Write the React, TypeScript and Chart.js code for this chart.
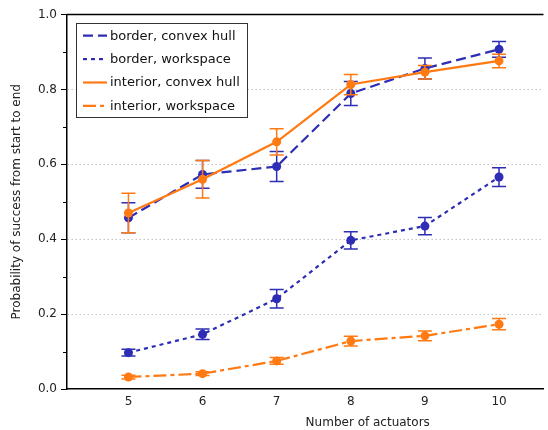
import React, { useEffect, useRef } from "react";
import { Chart, registerables } from "chart.js";

Chart.register(...registerables);

const actuators = [5, 6, 7, 8, 9, 10];
const borderHull = [0.457, 0.573, 0.594, 0.789, 0.856, 0.907];
const borderHullErr = [0.040, 0.037, 0.040, 0.032, 0.028, 0.021];
const borderWs = [0.097, 0.146, 0.241, 0.397, 0.435, 0.566];
const borderWsErr = [0.009, 0.014, 0.025, 0.023, 0.023, 0.025];
const interiorHull = [0.470, 0.560, 0.660, 0.813, 0.846, 0.876];
const interiorHullErr = [0.053, 0.050, 0.035, 0.027, 0.018, 0.018];
const interiorWs = [0.032, 0.041, 0.075, 0.128, 0.142, 0.173];
const interiorWsErr = [0.005, 0.005, 0.009, 0.013, 0.013, 0.015];

const seriesLabels = [
  "border, convex hull",
  "border, workspace",
  "interior, convex hull",
  "interior, workspace",
];
const xTicks = [5, 6, 7, 8, 9, 10];
const yTicks = [0, 0.2, 0.4, 0.6, 0.8, 1.0];
const yMinorTicks = [0.1, 0.3, 0.5, 0.7, 0.9];
const xTitle = "Number of actuators";
const yTitle = "Probability of success from start to end";

const BLUE = "#2d2db5";
const ORANGE = "#ff7a12";
const FONT = "'DejaVu Sans', sans-serif";

const series = [
  { label: seriesLabels[0], values: borderHull, errs: borderHullErr, color: BLUE, dash: [10, 5], order: 1 },
  { label: seriesLabels[1], values: borderWs, errs: borderWsErr, color: BLUE, dash: [4, 4], order: 1 },
  { label: seriesLabels[2], values: interiorHull, errs: interiorHullErr, color: ORANGE, dash: [], order: 0 },
  { label: seriesLabels[3], values: interiorWs, errs: interiorWsErr, color: ORANGE, dash: [13, 4, 4, 4], order: 0 },
];

const errorBarPlugin = {
  id: "errorBars",
  beforeDatasetDraw(chart: any, args: any) {
    const s = series[args.index];
    const ds = chart.data.datasets[args.index];
    const xs = chart.scales.x;
    const ys = chart.scales.y;
    const ctx = chart.ctx;
    ctx.save();
    ctx.strokeStyle = s.color;
    ctx.lineWidth = 1.5;
    ctx.setLineDash([]);
    ds.data.forEach((pt: any, i: number) => {
      const px = xs.getPixelForValue(pt.x);
      const top = ys.getPixelForValue(pt.y + s.errs[i]);
      const bot = ys.getPixelForValue(pt.y - s.errs[i]);
      ctx.beginPath();
      ctx.moveTo(px, top);
      ctx.lineTo(px, bot);
      ctx.moveTo(px - 7, top);
      ctx.lineTo(px + 7, top);
      ctx.moveTo(px - 7, bot);
      ctx.lineTo(px + 7, bot);
      ctx.stroke();
    });
    ctx.restore();
  },
};

const framePlugin = {
  id: "frame",
  afterDraw(chart: any) {
    const ctx = chart.ctx;
    const { left, right, top } = chart.chartArea;
    const ys = chart.scales.y;
    const xs = chart.scales.x;
    ctx.save();
    ctx.strokeStyle = "#000";
    ctx.lineWidth = 1.5;
    ctx.beginPath();
    ctx.moveTo(left - 0.75, top);
    ctx.lineTo(right, top);
    ctx.stroke();
    // minor ticks
    ctx.lineWidth = 1;
    yMinorTicks.forEach((v) => {
      const py = Math.round(ys.getPixelForValue(v)) + 0.5;
      ctx.beginPath();
      ctx.moveTo(left - 4, py);
      ctx.lineTo(left, py);
      ctx.stroke();
    });
    // x-axis title (axes extend past the cropped figure edge, so the title sits right of visible center)
    ctx.fillStyle = "#222";
    ctx.font = "12px " + FONT;
    ctx.textAlign = "center";
    ctx.textBaseline = "middle";
    const cx = (xs.getPixelForValue(4.171) + xs.getPixelForValue(12.286)) / 2;
    ctx.fillText(xTitle, cx, 423);
    // legend
    const bx = 76.5, by = 23.5, bw = 171, bh = 94;
    ctx.fillStyle = "rgba(255,255,255,0.9)";
    ctx.fillRect(bx, by, bw, bh);
    ctx.strokeStyle = "#333";
    ctx.lineWidth = 1;
    ctx.strokeRect(bx, by, bw, bh);
    ctx.font = "13px " + FONT;
    ctx.textBaseline = "middle";
    ctx.textAlign = "left";
    series.forEach((s, i) => {
      const ry = 35.7 + i * 23.4;
      ctx.strokeStyle = s.color;
      ctx.lineWidth = 2.2;
      ctx.setLineDash(s.dash);
      ctx.beginPath();
      ctx.moveTo(83, ry);
      ctx.lineTo(107, ry);
      ctx.stroke();
      ctx.setLineDash([]);
      ctx.fillStyle = "#111";
      ctx.fillText(s.label, 110, ry + 0.5);
    });
    ctx.restore();
  },
};

export default function App() {
  const ref = useRef<HTMLCanvasElement | null>(null);

  useEffect(() => {
    if (!ref.current) return;
    const chart = new Chart(ref.current, {
      type: "line",
      data: {
        datasets: series.map((s) => ({
          label: s.label,
          data: actuators.map((x, i) => ({ x, y: s.values[i] })),
          borderColor: s.color,
          backgroundColor: s.color,
          borderWidth: 2.2,
          borderDash: s.dash,
          pointRadius: 4.5,
          pointBorderWidth: 0,
          pointBackgroundColor: s.color,
          fill: false,
          tension: 0,
          order: s.order,
        })),
      },
      options: {
        responsive: false,
        animation: false,
        events: [],
        layout: { padding: { top: 14.5, right: 0, left: 0, bottom: 0 } },
        plugins: {
          legend: { display: false },
          tooltip: { enabled: false },
        },
        scales: {
          x: {
            type: "linear",
            min: 4.171,
            max: 10.6,
            afterBuildTicks: (scale: any) => {
              scale.ticks = xTicks.map((v) => ({ value: v }));
            },
            afterFit: (scale: any) => {
              scale.height = 41;
            },
            grid: { display: false, drawTicks: false },
            border: { display: true, color: "#000", width: 1.5 },
            ticks: {
              padding: 6,
              color: "#222",
              font: { family: FONT, size: 12 },
              callback: (v: any) => String(v),
            },
            title: { display: false },
          },
          y: {
            type: "linear",
            min: 0,
            max: 1,
            afterBuildTicks: (scale: any) => {
              scale.ticks = yTicks.map((v) => ({ value: v }));
            },
            afterFit: (scale: any) => {
              scale.width = 67;
            },
            grid: {
              display: true,
              drawTicks: true,
              tickLength: 6,
              tickColor: "#000",
              tickWidth: 1,
              lineWidth: 1,
              color: (c: any) => {
                const v = c.tick ? c.tick.value : 0;
                return v > 0.01 && v < 0.99 ? "#c4c4c4" : "rgba(0,0,0,0)";
              },
            },
            border: { display: true, color: "#000", width: 1.5, dash: [1.5, 2.5] },
            ticks: {
              padding: 4,
              color: "#222",
              font: { family: FONT, size: 12 },
              callback: (v: any) => Number(v).toFixed(1),
            },
            title: {
              display: true,
              text: yTitle,
              color: "#222",
              font: { family: FONT, size: 12 },
              padding: { top: 10, bottom: 0 },
            },
          },
        },
      },
      plugins: [errorBarPlugin, framePlugin],
    } as any);
    return () => chart.destroy();
  }, []);

  return (
    <div
      style={{
        position: "absolute",
        left: 0,
        top: 0,
        width: 548,
        height: 430,
        overflow: "hidden",
        background: "#fff",
      }}
    >
      <canvas ref={ref} width={548} height={430} style={{ display: "block" }} />
    </div>
  );
}
